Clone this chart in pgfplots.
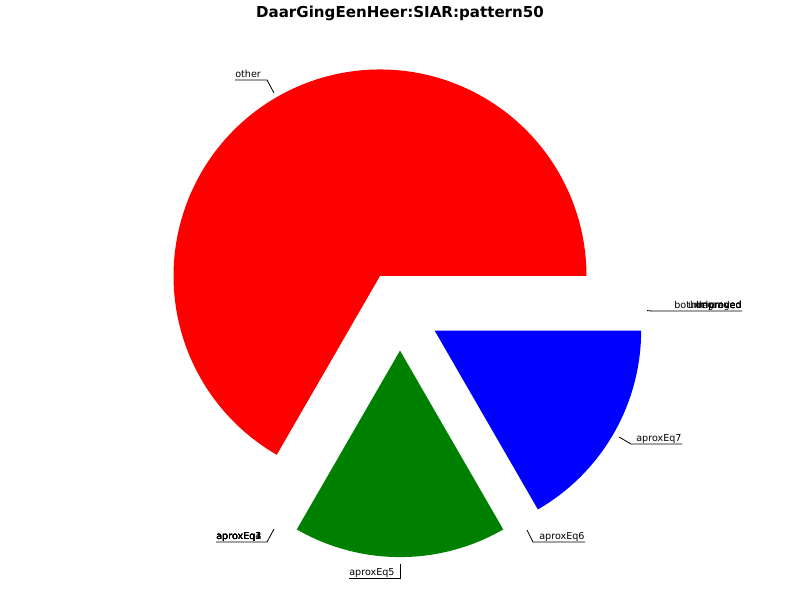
\documentclass[border=0pt]{standalone}
\usepackage{pgfplots}
\pgfplotsset{compat=1.18}
\usepackage{fontspec}
\setmainfont{DejaVu Sans}
% slice values (percent), order as drawn counter-clockwise from 0 degrees
\def\vOther{66.667}
\def\vEqFive{16.667}
\def\vEqSeven{16.666}
\def\cx{400}\def\cy{289.4}\def\R{206.5}\def\ex{40}
\newcommand\slice[3]{%
  \pgfmathsetmacro\sa{#1}%
  \pgfmathsetmacro\ea{#1+3.6*#2}%
  \pgfmathsetmacro\ma{(\sa+\ea)/2}%
  \pgfmathsetmacro\ox{\cx+\ex*cos(\ma)}%
  \pgfmathsetmacro\oy{\cy+\ex*sin(\ma)}%
  \edef\doslice{\noexpand\addplot[draw=none, fill=#3, domain=\sa:\ea, samples=150, variable=\noexpand\t]
    ({\ox+\R*cos(\noexpand\t)},{\oy+\R*sin(\noexpand\t)}) -- (axis cs:\ox,\oy) -- cycle;}%
  \doslice
}
\newcommand\lab{\fontsize{6.94}{8}\selectfont}
\begin{document}%
\begin{tikzpicture}
\begin{axis}[
  scale only axis, width=8in, height=6in,
  xmin=0, xmax=800, ymin=0, ymax=600,
  hide axis, clip=false,
]
\pgfmathsetmacro\aA{0}
\pgfmathsetmacro\aB{3.6*\vOther}
\pgfmathsetmacro\aC{3.6*(\vOther+\vEqFive)}
\slice{\aA}{\vOther}{red}
\slice{\aB}{\vEqFive}{green!50!black}
\slice{\aC}{\vEqSeven}{blue}
% title
\node[font=\fontsize{10.9}{13}\selectfont\bfseries] at (axis cs:400,587) {DaarGingEenHeer:SIAR:pattern50};
% labels (y = 600 - pixel row)
\draw[line width=0.6pt] (axis cs:235,520) -- (axis cs:267,520) -- (axis cs:274,507);
\node[anchor=base west, inner sep=0pt, font=\lab] at (axis cs:235,522.5) {other};
\draw[line width=0.6pt] (axis cs:216,58) -- (axis cs:267,58) -- (axis cs:274,71);
\pgfplotsinvokeforeach{1,2,3,4}{\node[anchor=base west, inner sep=0pt, font=\lab] at (axis cs:216,60.5) {aproxEq#1};}
\draw[line width=0.6pt] (axis cs:349,22) -- (axis cs:400,22) -- (axis cs:400,36);
\node[anchor=base west, inner sep=0pt, font=\lab] at (axis cs:349,24.5) {aproxEq5};
\draw[line width=0.6pt] (axis cs:585,58) -- (axis cs:533,58) -- (axis cs:527,70);
\node[anchor=base west, inner sep=0pt, font=\lab] at (axis cs:539,60.5) {aproxEq6};
\draw[line width=0.6pt] (axis cs:682,156) -- (axis cs:631,156) -- (axis cs:619,163);
\node[anchor=base west, inner sep=0pt, font=\lab] at (axis cs:636,158.5) {aproxEq7};
\draw[line width=0.6pt] (axis cs:742,289) -- (axis cs:652,289) -- (axis cs:647,289.4);
\pgfplotsinvokeforeach{bothImproved,improved,degraded,unchanged}{\node[anchor=base east, inner sep=0pt, font=\lab] at (axis cs:742,291.5) {#1};}
\end{axis}
\pgfresetboundingbox
\useasboundingbox (current axis.south west) rectangle (current axis.north east);
\end{tikzpicture}%
\end{document}
